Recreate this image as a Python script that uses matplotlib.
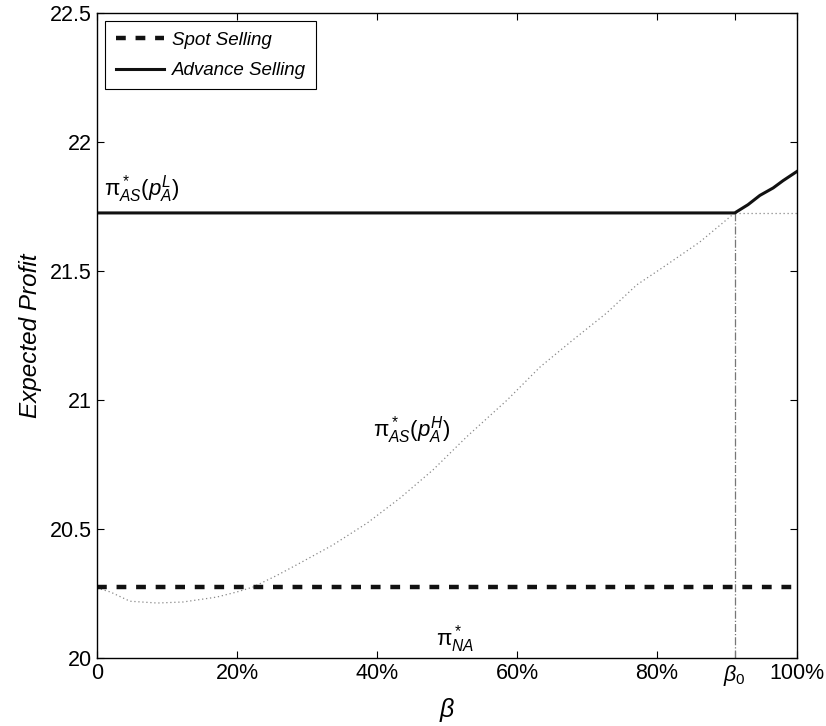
import matplotlib
matplotlib.use("Agg")
import matplotlib.pyplot as plt

plt.rcParams['font.family'] = ['Liberation Sans', 'DejaVu Sans']
plt.rcParams['mathtext.fontset'] = 'custom'
plt.rcParams['mathtext.rm'] = 'Liberation Sans'
plt.rcParams['mathtext.it'] = 'Liberation Sans:italic'

# data
beta0 = 0.911
spot_profit = 20.275
as_low_profit = 21.725

# pi_AS(p_A^H) dotted curve
high_beta = [0.0, 0.019, 0.047, 0.086, 0.123, 0.171, 0.2, 0.223, 0.257, 0.29,
             0.337, 0.386, 0.433, 0.48, 0.528, 0.586, 0.633, 0.68, 0.728,
             0.771, 0.809, 0.861, 0.911]
high_profit = [20.271, 20.256, 20.22, 20.213, 20.217, 20.236, 20.256, 20.275,
               20.32, 20.368, 20.438, 20.523, 20.62, 20.729, 20.857, 21.0,
               21.128, 21.233, 21.337, 21.446, 21.515, 21.612, 21.725]

# advance selling (upper envelope)
adv_beta = [0.0, 0.911, 0.93, 0.947, 0.966, 0.98, 1.0]
adv_profit = [21.725, 21.725, 21.757, 21.793, 21.822, 21.85, 21.886]

xticks = [0, 0.2, 0.4, 0.6, 0.8, beta0, 1.0]
xticklabels = ['0', '20%', '40%', '60%', '80%', r'$\beta_0$', '100%']
yticks = [20, 20.5, 21, 21.5, 22, 22.5]
yticklabels = ['20', '20.5', '21', '21.5', '22', '22.5']

fig = plt.figure(figsize=(8.26, 7.26), dpi=100)
ax = fig.add_axes([0.1174, 0.0937, 0.8475, 0.8884])

# dotted helper curves
ax.plot(high_beta, high_profit, color='#888888', lw=0.9, linestyle=(0, (1, 2.2)))
ax.plot([beta0, 1.0], [as_low_profit, as_low_profit], color='#888888', lw=0.9,
        linestyle=(0, (1, 2.2)))
ax.plot([beta0, beta0], [20, as_low_profit], color='#777777', lw=0.9, linestyle='-.')

ax.plot([0, 1], [spot_profit, spot_profit], color='#111111', lw=3.2,
        linestyle=(0, (2.2, 2.2)), label='Spot Selling')
ax.plot(adv_beta, adv_profit, color='#111111', lw=2.2, label='Advance Selling',
        solid_joinstyle='round')

ax.set_xlim(0, 1)
ax.set_ylim(20, 22.5)
ax.set_xticks(xticks)
ax.set_xticklabels(xticklabels, fontsize=15.5)
ax.set_yticks(yticks)
ax.set_yticklabels(yticklabels, fontsize=15.5)
ax.tick_params(direction='in', top=True, right=True, length=5, width=0.8)
for s in ax.spines.values():
    s.set_linewidth(1.0)

ax.set_xlabel(r'$\beta$', fontsize=18, labelpad=6)
ax.set_ylabel('Expected Profit', fontsize=17.5, style='italic', labelpad=6)

ax.text(0.01, 21.755, r'$\mathrm{\pi}^*_{AS}(p^L_A)$', fontsize=16, ha='left', va='bottom')
ax.text(0.395, 20.82, r'$\mathrm{\pi}^*_{AS}(p^H_A)$', fontsize=16, ha='left', va='bottom')
ax.text(0.485, 20.01, r'$\mathrm{\pi}^*_{NA}$', fontsize=16, ha='left', va='bottom')

leg = ax.legend(loc='upper left', prop={'style': 'italic', 'size': 13.5},
                fancybox=False, edgecolor='black', framealpha=1, borderaxespad=0.45,
                handlelength=2.6, borderpad=0.55, labelspacing=0.7, handletextpad=0.4)
leg.get_frame().set_linewidth(0.8)

fig.savefig('out.png', dpi=100)
